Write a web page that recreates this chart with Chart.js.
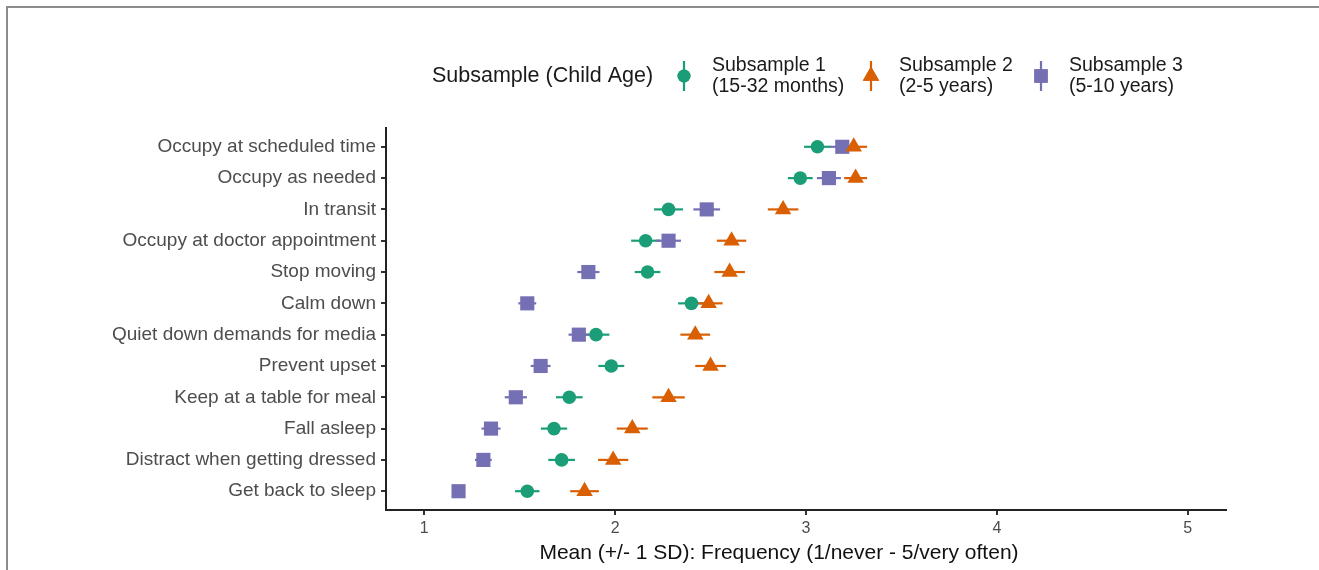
<!DOCTYPE html>
<html>
<head>
<meta charset="utf-8">
<script src="https://cdn.jsdelivr.net/npm/chart.js@4/dist/chart.umd.min.js"></script>
<style>
  body { margin: 0; background: #fff; }
  #wrap { position: relative; width: 1319px; height: 570px; }
  #frame { position: absolute; left: 6px; top: 6px; right: -4px; bottom: -4px; border-top: 2px solid #8c8c8c; border-left: 2px solid #8c8c8c; pointer-events: none; }
</style>
</head>
<body>
<div id="wrap">
  <canvas id="grafica" width="1319" height="570"></canvas>
  <div id="frame"></div>
</div>
<script>
// categorías (de arriba hacia abajo)
const categorias = [
  'Occupy at scheduled time', 'Occupy as needed', 'In transit', 'Occupy at doctor appointment',
  'Stop moving', 'Calm down', 'Quiet down demands for media', 'Prevent upset',
  'Keep at a table for meal', 'Fall asleep', 'Distract when getting dressed', 'Get back to sleep'
];

// medias
const media1 = [3.06, 2.97, 2.28, 2.16, 2.17, 2.40, 1.90, 1.98, 1.76, 1.68, 1.72, 1.54];
const media2 = [3.25, 3.26, 2.88, 2.61, 2.60, 2.49, 2.42, 2.50, 2.28, 2.09, 1.99, 1.84];
const media3 = [3.19, 3.12, 2.48, 2.28, 1.86, 1.54, 1.81, 1.61, 1.48, 1.35, 1.31, 1.18];

// mitad de la barra de error
const error1 = [0.07, 0.065, 0.076, 0.076, 0.067, 0.07, 0.07, 0.068, 0.07, 0.069, 0.07, 0.064];
const error2 = [0.07, 0.06, 0.08, 0.077, 0.08, 0.073, 0.078, 0.08, 0.085, 0.081, 0.079, 0.075];
const error3 = [0.065, 0.063, 0.07, 0.065, 0.058, 0.047, 0.054, 0.052, 0.058, 0.05, 0.044, 0.03];

const xTicks = [1, 2, 3, 4, 5];

const legendTitle = 'Subsample (Child Age)';
const nombres = [['Subsample 1', '(15-32 months)'], ['Subsample 2', '(2-5 years)'], ['Subsample 3', '(5-10 years)']];
const tituloX = 'Mean (+/- 1 SD): Frequency (1/never - 5/very often)';
const colores = ['#1b9e77', '#d95f02', '#7570b3'];

const fuente = '"Liberation Sans", Arial, sans-serif';

function puntos(medias, errores) {
  return medias.map((m, i) => ({ x: m, y: i, e: errores[i] }));
}

// barras de error horizontales
const barrasError = {
  id: 'barrasError',
  beforeDatasetsDraw(chart) {
    const ctx = chart.ctx;
    const xs = chart.scales.x, ys = chart.scales.y;
    chart.data.datasets.forEach(ds => {
      ctx.save();
      ctx.strokeStyle = ds.borderColor;
      ctx.lineWidth = 2.2;
      ds.data.forEach(p => {
        const y = ys.getPixelForValue(p.y);
        ctx.beginPath();
        ctx.moveTo(xs.getPixelForValue(p.x - p.e), y);
        ctx.lineTo(xs.getPixelForValue(p.x + p.e), y);
        ctx.stroke();
      });
      ctx.restore();
    });
  }
};

// leyenda estilo ggplot + título del eje x
const leyenda = {
  id: 'leyenda',
  afterDraw(chart) {
    const ctx = chart.ctx;
    ctx.save();
    ctx.textBaseline = 'middle';
    ctx.fillStyle = '#1a1a1a';
    ctx.font = '21.5px ' + fuente;
    ctx.fillText(legendTitle, 432, 76);
    const xs = [684, 871, 1041];
    const estilos = ['circle', 'triangle', 'rect'];
    const radios = [6.5, 9.5, 9.5];
    nombres.forEach((n, i) => {
      const x = xs[i];
      ctx.strokeStyle = colores[i];
      ctx.lineWidth = 2.2;
      ctx.beginPath();
      ctx.moveTo(x, 61);
      ctx.lineTo(x, 91);
      ctx.stroke();
      ctx.fillStyle = colores[i];
      Chart.helpers.drawPoint(ctx, { pointStyle: estilos[i], radius: radios[i], borderWidth: 0 }, x, 76);
      ctx.fill();
      ctx.fillStyle = '#1a1a1a';
      ctx.font = '19.5px ' + fuente;
      ctx.fillText(n[0], x + 28, 66);
      ctx.fillText(n[1], x + 28, 87);
    });
    ctx.font = '21px ' + fuente;
    ctx.textAlign = 'center';
    ctx.fillStyle = '#111';
    ctx.fillText(tituloX, 779, 553);
    ctx.restore();
  }
};

const ctx = document.getElementById('grafica').getContext('2d');

const grafica = new Chart(ctx, {
  type: 'scatter',
  data: {
    datasets: [
      { label: 'Subsample 1', data: puntos(media1, error1), backgroundColor: colores[0], borderColor: colores[0], pointStyle: 'circle', pointRadius: 6.8, pointBorderWidth: 0 },
      { label: 'Subsample 2', data: puntos(media2, error2), backgroundColor: colores[1], borderColor: colores[1], pointStyle: 'triangle', pointRadius: 9.5, pointBorderWidth: 0 },
      { label: 'Subsample 3', data: puntos(media3, error3), backgroundColor: colores[2], borderColor: colores[2], pointStyle: 'rect', pointRadius: 10, pointBorderWidth: 0 }
    ]
  },
  options: {
    responsive: false,
    animation: false,
    layout: { padding: { left: 0, right: 93, top: 128, bottom: 0 } },
    plugins: {
      legend: { display: false },
      tooltip: { enabled: false }
    },
    scales: {
      x: {
        type: 'linear',
        min: 0.8,
        max: 5.2,
        afterBuildTicks: s => { s.ticks = xTicks.map(v => ({ value: v })); },
        afterFit: s => { s.height = 60; },
        grid: { display: true, drawOnChartArea: false, drawTicks: true, tickLength: 5, color: '#333', lineWidth: 2 },
        border: { display: true, color: '#222', width: 2 },
        ticks: { color: '#4d4d4d', font: { size: 16, family: fuente }, padding: 4 }
      },
      y: {
        type: 'linear',
        reverse: true,
        min: -0.6,
        max: 11.6,
        afterBuildTicks: s => { s.ticks = categorias.map((c, i) => ({ value: i })); },
        afterFit: s => { s.width = 386; },
        grid: { display: true, drawOnChartArea: false, drawTicks: true, tickLength: 5, color: '#333', lineWidth: 2 },
        border: { display: true, color: '#222', width: 2 },
        ticks: {
          color: '#4d4d4d',
          font: { size: 19, family: fuente },
          padding: 5,
          callback: v => categorias[v]
        }
      }
    }
  },
  plugins: [barrasError, leyenda]
});
</script>
</body>
</html>
